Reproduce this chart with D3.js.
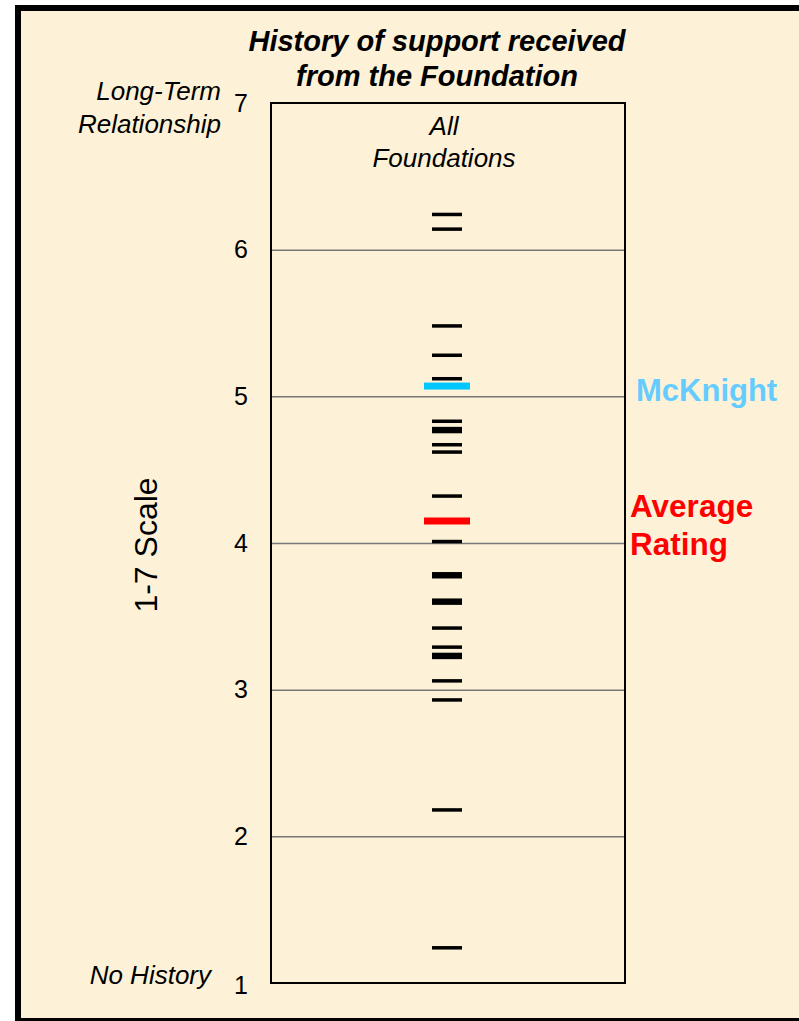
<!DOCTYPE html>
<html>
<head>
<meta charset="utf-8">
<script src="https://cdn.jsdelivr.net/npm/d3@7"></script>
<style>
  body { margin: 0; background: #fff; }
  svg { display: block; font-family: "Liberation Sans", Arial, sans-serif; }
</style>
</head>
<body>
<svg id="chart" width="799" height="1021"></svg>
<script>
// chart values
var categories = ["All Foundations"];
var yTicks = [1, 2, 3, 4, 5, 6, 7];
var gridTicks = [2, 3, 4, 5, 6];
var foundationScores = [6.24, 6.14, 5.48, 5.28, 5.12, 4.83, 4.78, 4.76, 4.67, 4.62,
	4.32, 4.01, 3.79, 3.77, 3.61, 3.59, 3.42, 3.29, 3.24, 3.22, 3.06, 2.93, 2.18, 1.24];
var mcknightScore = 5.07;
var averageScore = 4.15;

var svg = d3.select("#chart");

// outer frame
svg.append("rect")
	.attr("x", 18).attr("y", 8)
	.attr("width", 800).attr("height", 1013)
	.attr("fill", "#fdf2d7")
	.attr("stroke", "#000")
	.attr("stroke-width", 6);

var plot = { left: 271, right: 625, top: 103, bottom: 983 };

var y = d3.scaleLinear()
	.domain([1, 7])
	.range([plot.bottom, plot.top]);

var x = d3.scaleBand()
	.domain(categories)
	.range([plot.left, plot.right]);

// text block helper, lines stacked
function label(px, py, lines, lineHeight, opts, rotate) {
	var g = svg.append("g")
		.attr("transform", "translate(" + px + "," + py + ")" + (rotate ? " rotate(" + rotate + ")" : ""));
	var t = g.append("text")
		.attr("text-anchor", opts.anchor || "start")
		.attr("font-size", opts.size)
		.attr("font-weight", opts.weight || "normal")
		.attr("font-style", opts.style || "normal")
		.attr("fill", opts.fill || "#000");
	lines.forEach(function(s, i) {
		t.append("tspan").attr("x", 0).attr("y", i * lineHeight).text(s);
	});
	return g;
}

// gridlines
svg.append("g")
	.attr("transform", "translate(" + plot.left + ",0)")
	.call(d3.axisLeft(y).tickValues(gridTicks).tickSize(-(plot.right - plot.left)).tickFormat(""))
	.call(function(g) {
		g.select(".domain").remove();
		g.selectAll("line").attr("stroke", "#777").attr("stroke-width", 1.5);
	});

// tick labels
svg.append("g")
	.attr("transform", "translate(" + plot.left + ",0)")
	.call(d3.axisLeft(y).tickValues(yTicks).tickSize(0).tickPadding(23).tickFormat(d3.format("d")))
	.call(function(g) {
		g.select(".domain").remove();
		g.selectAll("text")
			.attr("font-size", 25)
			.attr("font-family", "Liberation Sans, Arial, sans-serif")
			.attr("fill", "#000");
		g.selectAll(".tick").filter(function(d) { return d === 1; })
			.select("text").attr("dy", "0.42em");
	});

// plot border
svg.append("rect")
	.attr("x", plot.left).attr("y", plot.top)
	.attr("width", plot.right - plot.left)
	.attr("height", plot.bottom - plot.top)
	.attr("fill", "none")
	.attr("stroke", "#000")
	.attr("stroke-width", 2);

var cx = x(categories[0]) + x.bandwidth() / 2 - 1;

// foundation marks
svg.append("g")
	.selectAll("rect")
	.data(foundationScores)
	.enter()
	.append("rect")
	.attr("x", cx - 15)
	.attr("y", function(d) { return y(d) - 1.75; })
	.attr("width", 30)
	.attr("height", 3.5)
	.attr("fill", "#000");

// McKnight and average marks
var highlights = [
	{ value: mcknightScore, color: "#00c8ff" },
	{ value: averageScore, color: "#ff0000" }
];
svg.append("g")
	.selectAll("rect")
	.data(highlights)
	.enter()
	.append("rect")
	.attr("x", cx - 23)
	.attr("y", function(d) { return y(d.value) - 3.5; })
	.attr("width", 46)
	.attr("height", 7)
	.attr("fill", function(d) { return d.color; });

// title
label(437, 51, ["History of support received", "from the Foundation"], 35,
	{ anchor: "middle", size: 29, weight: "bold", style: "italic" });

// category label
label(444, 135, ["All", "Foundations"], 32,
	{ anchor: "middle", size: 26, style: "italic" });

// scale end labels
label(221, 100, ["Long-Term", "Relationship"], 33,
	{ anchor: "end", size: 26, style: "italic" });
label(211, 984, ["No History"], 0,
	{ anchor: "end", size: 26, style: "italic" });

// axis title
label(157, 545, ["1-7 Scale"], 0,
	{ anchor: "middle", size: 32 }, -90);

// right labels
label(636, y(mcknightScore) + 15, ["McKnight"], 0,
	{ size: 31, weight: "bold", fill: "#66ccff" });
label(630, 517, ["Average", "Rating"], 38,
	{ size: 31.5, weight: "bold", fill: "#ff0000" });
</script>
</body>
</html>
